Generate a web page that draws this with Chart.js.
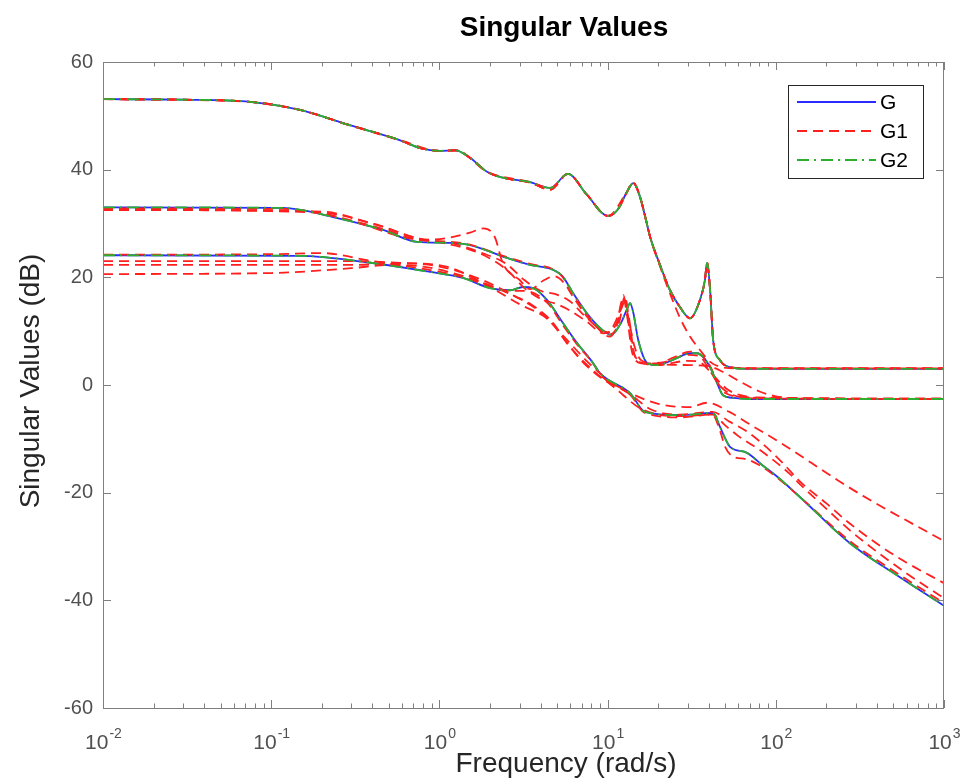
<!DOCTYPE html>
<html>
<head>
<meta charset="utf-8">
<title>Singular Values</title>
<script src="https://cdn.jsdelivr.net/npm/chart.js@4.4.1/dist/chart.umd.min.js"></script>
<style>
    html, body { margin: 0; padding: 0; background: #ffffff; }
    #wrap { width: 967px; height: 780px; }
</style>
</head>
<body>
<div id="wrap"><canvas id="svChart" width="967" height="780"></canvas></div>
<script>
// Singular value plot of G, the model array G1 and G2 (MATLAB sigma style).
// Each curve is a list of [frequency rad/s, dB] pairs.

// #region Data
const xTickExponents = [-2, -1, 0, 1, 2, 3];
const yTickValues = [-60, -40, -20, 0, 20, 40, 60];

// G : three singular values
const gSv1 = [[0.01, 53.1], [0.03, 53.0], [0.075, 52.6], [0.148, 51.1], [0.29, 48.3], [0.58, 45.5],
    [0.77, 44.0], [1.0, 43.5], [1.25, 43.6], [1.52, 42.2], [1.92, 39.6], [2.39, 38.5], [3.46, 37.7],
    [4.55, 36.6], [5.82, 39.2], [7.55, 35.3], [10.05, 31.4], [11.5, 32.6], [13.0, 35.8], [14.2, 37.5],
    [15.6, 34.9], [16.9, 30.7], [17.9, 27.5], [20.5, 22.3], [23.5, 17.6], [26.9, 14.5], [30.9, 12.4],
    [35.4, 15.8], [37.9, 19.5], [39.0, 22.7], [40.7, 17.6], [42.4, 8.4], [46.6, 4.6], [53.4, 3.3],
    [67.4, 3.0], [1000, 3.0]];
const gSv2 = [[0.01, 33.0], [0.117, 32.9], [0.233, 31.2], [0.462, 28.8], [0.736, 26.6], [1.16, 26.4],
    [1.52, 26.0], [2.52, 23.6], [3.46, 22.3], [4.73, 21.4], [5.43, 20.1], [6.22, 17.1], [7.85, 12.6],
    [9.5, 10.0], [10.5, 9.3], [12.0, 11.5], [13.0, 14.0], [13.6, 15.2], [14.2, 13.5], [15.2, 8.4],
    [17.2, 4.1], [19.7, 3.7], [25.0, 4.8], [30.9, 5.9], [34.0, 5.9], [37.5, 5.0], [40.7, 3.3],
    [44.7, 0.4], [48.5, -1.9], [55.7, -2.4], [70, -2.6], [1000, -2.6]];
const gSv3 = [[0.01, 24.1], [0.148, 24.0], [0.371, 22.8], [0.88, 21.0], [1.38, 19.9], [2.0, 18.0],
    [2.63, 17.6], [3.14, 18.2], [3.6, 18.0], [4.36, 15.8], [5.43, 11.5], [6.58, 7.8], [8.19, 4.1],
    [9.0, 2.2], [13.6, -1.5], [16.7, -5.0], [26.9, -5.6], [42.4, -5.2], [46.6, -7.8], [50.5, -10.2],
    [53.4, -11.5], [67.4, -12.6], [84, -15.0], [100, -16.8], [139, -20.8], [276, -29.4], [547, -35.7],
    [1000, -41.0]];

// G1 : model array, four models (a, b, c, d)
const g1Sv1Shared = [[0.01, 53.1], [0.03, 53.0], [0.075, 52.6], [0.148, 51.1], [0.29, 48.3], [0.58, 45.5],
    [0.77, 44.0], [1.0, 43.5], [1.25, 43.6], [1.52, 42.2], [1.92, 39.6], [2.39, 38.5], [3.46, 37.6],
    [4.55, 36.3], [5.82, 39.2], [7.55, 35.3], [10.05, 31.4], [11.5, 32.6], [13.0, 35.8], [14.2, 37.6],
    [15.6, 34.9], [16.9, 30.7], [17.9, 27.5], [20.5, 22.3], [23.5, 17.6], [26.9, 14.5], [30.9, 12.4],
    [35.4, 15.8], [37.9, 19.5], [39.0, 22.7], [40.7, 17.6], [42.4, 8.4], [46.6, 4.6], [53.4, 3.3],
    [67.4, 3.1], [1000, 3.1]];
const g1bSv1 = [[0.01, 53.1], [0.075, 52.6], [0.148, 51.1], [0.29, 48.3], [0.58, 45.5], [1.0, 43.5],
    [1.25, 43.6], [1.92, 39.6], [3.46, 37.7], [4.55, 36.6], [5.82, 39.2], [7.55, 35.3], [10.05, 31.4],
    [13.0, 35.8], [14.2, 37.5], [15.6, 34.9], [17.9, 27.5], [20.5, 22.0], [23.5, 17.0], [26.9, 12.5],
    [30.9, 9.0], [35.4, 6.5], [40.7, 4.3], [46.6, 3.4], [60, 3.1], [1000, 3.1]];

const g1aSv2 = [[0.01, 32.8], [0.12, 32.7], [0.23, 31.4], [0.46, 29.0], [0.74, 27.0], [1.16, 26.6],
    [1.5, 26.1], [2.5, 23.8], [3.46, 22.5], [4.73, 21.5], [5.43, 20.0], [6.2, 17.0], [7.85, 12.4],
    [10.3, 9.0], [11.6, 12.0], [12.4, 16.7], [13.0, 14.0], [14.5, 7.0], [16.0, 4.5], [19.7, 4.0],
    [25, 5.2], [30.9, 6.2], [34.0, 6.0], [37.5, 5.0], [40.7, 3.5], [44.7, 0.7], [50, -1.5], [70, -2.3],
    [1000, -2.5]];
const g1bSv2 = [[0.01, 32.5], [0.15, 32.4], [0.3, 30.5], [0.6, 27.5], [1.0, 26.5], [1.5, 25.2],
    [2.0, 23.5], [2.6, 21.0], [3.2, 18.0], [4.0, 16.0], [5.0, 15.0], [6.0, 13.8], [7.5, 11.8],
    [9.5, 9.6], [11.3, 11.5], [12.4, 16.2], [13.1, 12.5], [14.0, 6.0], [16.0, 4.0], [20, 3.8],
    [30, 3.7], [40, 3.5], [50, 2.2], [60, 0.8], [80, -1.2], [100, -2.1], [150, -2.5], [1000, -2.6]];
const g1cSv2 = [[0.01, 32.5], [0.2, 32.2], [0.4, 30.0], [0.88, 27.0], [1.16, 27.4], [1.52, 28.3],
    [1.83, 29.1], [2.14, 27.4], [2.39, 22.5], [3.0, 19.5], [3.46, 17.8], [4.2, 19.5], [4.8, 20.2],
    [5.5, 19.0], [6.2, 16.5], [7.8, 12.2], [10.3, 9.4], [11.8, 12.0], [12.6, 16.3], [13.4, 12.5],
    [14.5, 5.5], [17, 4.0], [22, 4.3], [30, 5.6], [35, 5.4], [40, 3.0], [46, 0.0], [55, -1.8],
    [80, -2.5], [1000, -2.6]];
const g1dSv2 = [[0.01, 32.6], [0.2, 32.0], [0.4, 30.0], [0.8, 27.0], [1.2, 26.3], [1.8, 24.5],
    [2.5, 22.5], [3.2, 19.5], [4.0, 17.5], [5.0, 16.8], [6.0, 15.5], [7.5, 12.5], [10.0, 9.8],
    [12.0, 14.0], [12.8, 16.0], [13.5, 10.0], [15, 4.5], [20, 3.7], [30, 4.5], [35, 4.3], [42, 2.0],
    [50, -0.5], [60, -1.8], [100, -2.5], [1000, -2.6]];

const g1aSv3 = [[0.01, 24.2], [0.1, 24.3], [0.2, 24.5], [0.4, 23.0], [0.9, 21.3], [1.4, 20.0],
    [2.0, 18.3], [2.6, 17.5], [3.2, 17.5], [4.4, 15.2], [5.4, 11.2], [6.6, 7.5], [8.2, 4.0], [9.0, 2.0],
    [13.6, -1.8], [16.7, -5.2], [27, -6.0], [42, -5.5], [46.6, -8.5], [50, -11.5], [55, -13.2],
    [67, -13.8], [84, -15.3], [100, -17.0], [139, -20.8], [276, -29.0], [547, -35.3], [1000, -40.5]];
const g1bSv3 = [[0.01, 23.0], [0.3, 23.0], [0.5, 22.8], [1.0, 22.0], [1.8, 19.5], [2.8, 16.5],
    [4.0, 13.5], [5.5, 9.0], [7.5, 4.5], [10, 1.0], [14, -2.0], [18, -4.5], [27, -5.5], [42, -5.0],
    [53, -6.8], [67, -8.6], [84, -11.0], [110, -14.5], [140, -18.0], [200, -22.0], [265, -25.3],
    [400, -29.5], [600, -33.0], [1000, -36.8]];
const g1cSv3 = [[0.01, 20.6], [0.1, 20.8], [0.3, 21.7], [0.5, 22.3], [0.8, 22.0], [1.3, 20.5],
    [2.0, 18.5], [2.9, 16.3], [3.5, 15.0], [4.6, 12.0], [5.7, 8.0], [7.0, 4.5], [9.0, 1.5], [13.6, -1.5],
    [20, -3.5], [31, -4.1], [39, -3.3], [53, -5.0], [70, -7.3], [110, -11.0], [231, -17.6],
    [330, -20.6], [1000, -29.0]];
const g1dSv3 = [[0.01, 22.3], [0.3, 22.3], [0.6, 22.6], [1.1, 22.0], [1.8, 19.0], [3.0, 15.0],
    [4.5, 12.0], [6.0, 7.0], [8.0, 3.0], [11, -0.5], [16, -4.5], [27, -5.8], [42, -5.5], [50, -7.5],
    [60, -9.5], [84, -12.5], [121, -16.5], [140, -18.5], [200, -23.0], [276, -27.0], [400, -31.0],
    [600, -35.0], [1000, -39.6]];

// G2 : lies on top of G
const g2Sv1 = gSv1;
const g2Sv2 = gSv2;
const g2Sv3 = gSv3;
// #endregion Data

// #region Style
const fontFamily = "'Liberation Sans', Arial, Helvetica, sans-serif";
const axisColor = '#7f7f7f';
const tickTextColor = '#505050';
const labelColor = '#262626';
const plotBox = { left: 103, top: 62, right: 944, bottom: 708 };

const systems = [
    { label: 'G',  color: '#2b2bff', dash: [],            order: 3, curves: [gSv1, gSv2, gSv3] },
    { label: 'G1', color: '#ff1f1f', dash: [10, 6],       order: 2,
      curves: [g1Sv1Shared, g1aSv2, g1aSv3, g1bSv1, g1bSv2, g1bSv3,
               g1Sv1Shared, g1cSv2, g1cSv3, g1Sv1Shared, g1dSv2, g1dSv3] },
    { label: 'G2', color: '#2eae2e', dash: [12, 5, 2, 5], order: 1, curves: [g2Sv1, g2Sv2, g2Sv3] }
];
// #endregion Style

const datasets = [];
systems.forEach(sys => {
    sys.curves.forEach(curve => {
        datasets.push({
            label: sys.label,
            data: curve.map(([f, db]) => ({ x: f, y: db })),
            borderColor: sys.color,
            borderDash: sys.dash,
            borderWidth: 1.8,
            pointRadius: 0,
            fill: false,
            cubicInterpolationMode: 'monotone',
            order: sys.order
        });
    });
});

// #region Frame, ticks, labels and legend (MATLAB look)
const matlabFrame = {
    id: 'matlabFrame',
    afterDatasetsDraw(chart) {
        const { ctx, chartArea: a, scales: { x, y } } = chart;
        ctx.save();

        // box and inward ticks
        ctx.strokeStyle = axisColor;
        ctx.lineWidth = 1;
        ctx.strokeRect(a.left + 0.5, a.top + 0.5, a.right - a.left - 1, a.bottom - a.top);
        ctx.beginPath();
        xTickExponents.forEach(p => {
            for (let m = 1; m <= 9; m++) {
                const v = m * Math.pow(10, p);
                if (v > x.max) break;
                const px = Math.round(x.getPixelForValue(v)) + 0.5;
                const len = m === 1 ? 8 : 4.5;
                ctx.moveTo(px, a.bottom); ctx.lineTo(px, a.bottom - len);
                ctx.moveTo(px, a.top); ctx.lineTo(px, a.top + len);
            }
        });
        yTickValues.forEach(v => {
            const py = Math.round(y.getPixelForValue(v)) + 0.5;
            ctx.moveTo(a.left, py); ctx.lineTo(a.left + 8, py);
            ctx.moveTo(a.right, py); ctx.lineTo(a.right - 8, py);
        });
        ctx.stroke();

        // x tick labels as 10 with a raised exponent
        ctx.fillStyle = tickTextColor;
        ctx.textBaseline = 'alphabetic';
        ctx.textAlign = 'left';
        xTickExponents.forEach(p => {
            const px = x.getPixelForValue(Math.pow(10, p));
            ctx.font = `21px ${fontFamily}`;
            const baseW = ctx.measureText('10').width;
            ctx.font = `14px ${fontFamily}`;
            const expW = ctx.measureText(String(p)).width;
            const left = px - (baseW + expW) / 2;
            ctx.font = `21px ${fontFamily}`;
            ctx.fillText('10', left, a.bottom + 41);
            ctx.font = `14px ${fontFamily}`;
            ctx.fillText(String(p), left + baseW + 1, a.bottom + 30);
        });

        // title and axis labels
        ctx.textAlign = 'center';
        ctx.textBaseline = 'middle';
        ctx.fillStyle = '#000000';
        ctx.font = `bold 28px ${fontFamily}`;
        ctx.fillText('Singular Values', 564, 28);
        ctx.fillStyle = labelColor;
        ctx.font = `28px ${fontFamily}`;
        ctx.fillText('Frequency (rad/s)', 566, 764);
        ctx.save();
        ctx.translate(31, (a.top + a.bottom) / 2 - 4);
        ctx.rotate(-Math.PI / 2);
        ctx.fillText('Singular Values (dB)', 0, 0);
        ctx.restore();

        // legend box in the upper right corner
        const box = { x: a.right - 156, y: a.top + 23, w: 135, h: 93 };
        ctx.fillStyle = '#ffffff';
        ctx.fillRect(box.x, box.y, box.w, box.h);
        ctx.strokeStyle = '#262626';
        ctx.strokeRect(box.x + 0.5, box.y + 0.5, box.w, box.h);
        ctx.font = `21px ${fontFamily}`;
        ctx.textAlign = 'left';
        systems.forEach((sys, i) => {
            const rowY = box.y + 17 + i * 29;
            ctx.strokeStyle = sys.color;
            ctx.lineWidth = 2;
            ctx.setLineDash(sys.dash);
            ctx.beginPath();
            ctx.moveTo(box.x + 9, rowY);
            ctx.lineTo(box.x + 88, rowY);
            ctx.stroke();
            ctx.setLineDash([]);
            ctx.fillStyle = '#000000';
            ctx.fillText(sys.label, box.x + 92, rowY + 1);
        });
        ctx.restore();
    }
};
// #endregion Frame, ticks, labels and legend

const chart = new Chart(document.getElementById('svChart').getContext('2d'), {
    type: 'line',
    data: { datasets: datasets },
    options: {
        responsive: false,
        animation: false,
        layout: {
            padding: { left: 0, right: 967 - plotBox.right, top: plotBox.top, bottom: 780 - plotBox.bottom }
        },
        plugins: {
            legend: { display: false },
            title: { display: false },
            tooltip: { enabled: false }
        },
        scales: {
            x: {
                type: 'logarithmic',
                min: 0.01,
                max: 1000,
                ticks: { display: false },
                grid: { display: false, drawTicks: false },
                border: { display: false },
                afterFit(scale) { scale.height = 0; }
            },
            y: {
                min: -60,
                max: 60,
                ticks: {
                    stepSize: 20,
                    padding: 10,
                    color: tickTextColor,
                    font: { family: fontFamily, size: 20 }
                },
                grid: { display: false, drawTicks: false },
                border: { display: false },
                afterFit(scale) { scale.width = plotBox.left; }
            }
        }
    },
    plugins: [matlabFrame]
});
</script>
</body>
</html>
